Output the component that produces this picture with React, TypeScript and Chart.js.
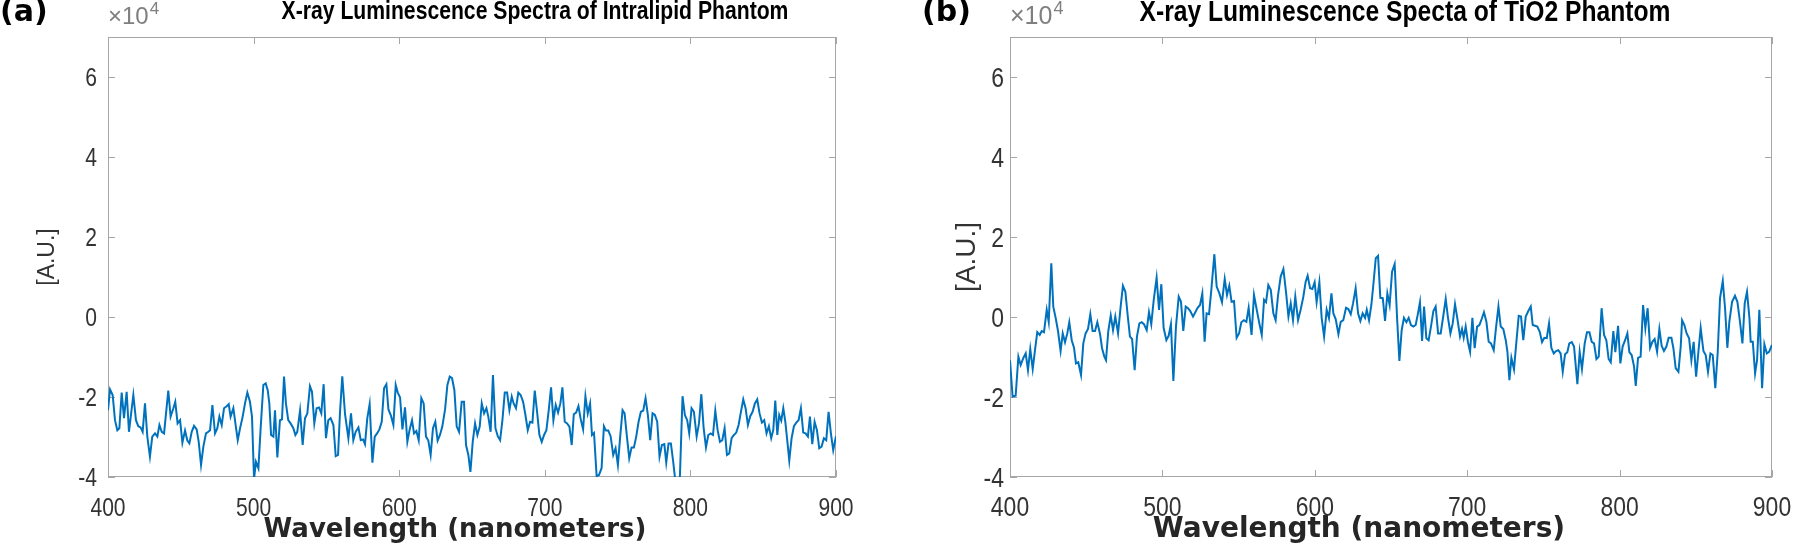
import React, { useEffect, useRef } from 'react';
import { Chart, registerables } from 'chart.js';

Chart.register(...registerables);

// ---------------- data ----------------
const X_TICKS = [400, 500, 600, 700, 800, 900];
const Y_TICKS = [-4, -2, 0, 2, 4, 6];
const X_MIN = 400;
const X_MAX = 900;
const Y_MIN = -4;
const Y_MAX = 7;

// (a) Intralipid phantom: wavelength (nm) and intensity (x10^4 A.U.)
const intralipidNm = [
  400.0, 401.4, 403.2, 404.8, 406.4, 407.8, 409.4, 411.0, 412.8, 414.4, 417.4, 419.2, 420.8, 422.4, 423.8,
  425.4, 427.0, 428.8, 430.4, 432.3, 433.9, 435.3, 436.9, 438.5, 441.4, 443.0, 444.9, 446.2, 447.8, 449.5,
  451.1, 452.9, 454.5, 455.9, 457.5, 459.1, 460.9, 462.3, 463.9, 465.5, 467.3, 468.9, 470.1, 471.7, 473.5,
  475.1, 476.5, 478.1, 479.7, 481.5, 482.9, 484.2, 486.1, 487.5, 489.1, 490.7, 492.5, 494.1, 495.7, 497.5,
  498.9, 500.3, 501.6, 503.3, 504.9, 506.7, 508.3, 509.7, 510.8, 512.0, 513.6, 514.7, 516.3, 518.1, 519.5,
  520.9, 522.2, 523.8, 525.4, 527.3, 528.7, 530.0, 531.9, 533.7, 535.3, 536.9, 538.7, 540.1, 541.7, 543.3,
  544.9, 546.5, 548.1, 549.7, 551.3, 552.9, 554.8, 556.4, 558.0, 559.3, 560.9, 562.8, 565.1, 566.9, 568.5,
  570.1, 572.0, 573.6, 575.2, 576.5, 578.1, 579.7, 581.6, 583.2, 584.8, 586.4, 588.0, 589.6, 591.2, 592.6,
  594.2, 596.0, 597.6, 599.0, 600.6, 602.2, 604.0, 605.6, 607.2, 608.8, 610.2, 611.8, 613.4, 615.2, 616.8,
  618.4, 620.0, 621.6, 623.2, 624.8, 626.4, 628.0, 629.6, 631.5, 633.1, 634.7, 636.3, 637.9, 639.5, 641.1,
  642.9, 644.5, 645.9, 647.5, 648.9, 650.5, 652.1, 653.7, 655.3, 656.7, 658.3, 659.9, 661.2, 662.8, 664.4,
  666.1, 667.7, 669.3, 670.9, 672.5, 674.1, 675.7, 677.3, 678.6, 680.2, 681.8, 683.4, 685.1, 686.7, 688.3,
  689.9, 691.5, 693.1, 694.7, 696.3, 697.9, 699.5, 701.1, 702.7, 704.3, 705.9, 707.5, 709.1, 710.7, 712.1,
  713.7, 715.3, 716.9, 718.5, 719.9, 721.5, 723.1, 724.7, 726.3, 727.9, 729.5, 731.1, 732.4, 733.8, 735.6,
  737.2, 739.0, 740.6, 742.0, 743.6, 745.2, 747.0, 748.6, 750.2, 751.8, 753.4, 754.8, 756.4, 758.0, 759.6,
  761.2, 762.8, 764.4, 766.0, 767.6, 769.2, 770.8, 772.4, 774.0, 775.6, 777.2, 778.8, 780.4, 782.1, 783.4,
  785.0, 786.6, 788.2, 789.6, 791.2, 792.8, 794.6, 796.2, 797.8, 799.2, 800.8, 802.4, 804.3, 805.9, 807.5,
  809.1, 810.7, 812.3, 813.9, 815.5, 817.1, 818.7, 820.3, 821.9, 823.5, 825.1, 826.7, 828.3, 829.9, 831.5,
  833.1, 834.7, 836.3, 837.9, 839.5, 841.1, 842.7, 844.3, 845.9, 847.5, 849.1, 850.7, 852.3, 853.9, 855.5,
  856.9, 858.3, 859.7, 861.0, 862.4, 863.8, 865.2, 866.5, 867.9, 869.5, 871.1, 872.7, 874.3, 875.9, 877.5,
  879.1, 880.7, 882.1, 883.7, 885.3, 886.9, 888.5, 890.1, 891.7, 893.3, 894.9, 896.5, 898.1, 900.0,
];
const intralipidVal = [
  -2.33, -1.81, -1.95, -2.58, -2.83, -2.78, -1.89, -2.53, -1.87, -2.87, -1.95, -2.58, -2.73, -2.76, -2.87,
  -2.16, -2.99, -3.49, -2.99, -2.91, -2.99, -2.70, -2.87, -2.91, -1.84, -2.49, -2.28, -2.12, -2.66, -2.58,
  -3.14, -2.84, -3.09, -3.16, -2.87, -2.72, -2.81, -3.12, -3.70, -3.24, -2.91, -2.87, -2.83, -2.20, -2.91,
  -2.78, -2.49, -2.70, -2.28, -2.23, -2.18, -2.49, -2.28, -2.66, -3.08, -2.78, -2.49, -2.16, -1.89, -2.12,
  -2.49, -4.05, -3.62, -3.78, -2.74, -1.70, -1.66, -1.83, -2.16, -2.95, -2.99, -2.33, -3.51, -2.58, -2.56,
  -1.49, -2.16, -2.58, -2.66, -2.78, -2.95, -2.87, -2.34, -3.20, -2.53, -2.41, -1.73, -1.87, -2.66, -2.28,
  -2.26, -2.41, -1.68, -3.03, -2.58, -2.53, -2.70, -3.48, -3.45, -2.41, -1.48, -2.43, -3.03, -2.41, -3.08,
  -2.87, -2.76, -3.08, -3.06, -3.18, -2.53, -2.18, -3.64, -2.99, -2.91, -2.81, -2.62, -1.78, -1.68, -2.31,
  -2.45, -2.70, -1.70, -1.89, -2.01, -2.81, -2.26, -3.12, -2.81, -2.58, -2.91, -2.85, -3.08, -2.03, -2.16,
  -2.99, -3.09, -3.45, -2.78, -2.62, -3.09, -2.95, -2.74, -2.31, -1.70, -1.49, -1.53, -1.83, -2.74, -2.87,
  -2.12, -2.12, -3.20, -3.45, -3.87, -3.12, -2.66, -2.95, -2.74, -2.16, -2.41, -2.28, -2.49, -2.87, -1.45,
  -2.78, -2.98, -3.08, -2.58, -1.89, -1.89, -2.33, -1.99, -2.16, -2.28, -1.89, -1.95, -2.12, -2.45, -2.83,
  -2.62, -2.64, -1.84, -2.37, -2.95, -3.12, -2.95, -2.83, -2.33, -1.76, -2.58, -2.20, -2.39, -2.16, -1.76,
  -2.62, -2.66, -2.74, -3.20, -2.43, -2.39, -2.23, -2.56, -2.81, -1.98, -2.41, -2.16, -2.95, -2.90, -3.98,
  -3.95, -3.78, -2.73, -2.84, -2.84, -2.98, -3.45, -3.28, -3.70, -2.98, -2.33, -2.41, -2.99, -3.53, -3.26,
  -3.26, -2.99, -2.62, -2.37, -2.34, -2.03, -2.45, -3.08, -2.41, -2.45, -2.62, -3.49, -3.20, -3.18, -3.64,
  -3.16, -3.16, -3.62, -4.08, -4.12, -3.99, -1.98, -2.45, -2.58, -2.91, -2.28, -2.37, -2.99, -2.66, -1.93,
  -2.78, -3.26, -2.95, -2.91, -2.95, -2.34, -2.83, -3.12, -3.08, -2.78, -3.45, -3.41, -3.03, -2.95, -2.89,
  -2.70, -2.37, -2.06, -2.28, -2.70, -2.48, -2.37, -2.16, -2.06, -2.41, -2.64, -2.58, -2.91, -2.73, -3.03,
  -2.83, -2.09, -2.95, -2.45, -2.59, -2.28, -2.62, -3.08, -3.59, -3.03, -2.73, -2.64, -2.58, -2.28, -2.89,
  -2.91, -2.99, -2.49, -3.18, -2.62, -2.83, -3.28, -3.24, -3.03, -3.08, -2.37, -2.91, -3.33, -2.98,
];

// (b) TiO2 phantom: wavelength (nm) and intensity (x10^4 A.U.)
const tio2Nm = [
  400.0, 401.7, 403.7, 405.5, 407.0, 408.7, 410.3, 411.8, 413.3, 414.9, 416.4, 417.9, 419.5, 420.8, 422.3,
  424.1, 425.4, 427.1, 428.4, 430.0, 431.5, 433.2, 434.6, 436.1, 437.6, 438.9, 440.5, 442.0, 443.3, 444.8,
  446.6, 448.1, 449.6, 451.2, 452.7, 454.2, 455.8, 457.3, 459.1, 460.4, 461.9, 463.0, 464.5, 466.1, 467.6,
  469.1, 470.9, 472.6, 474.1, 475.7, 477.2, 478.7, 480.1, 481.8, 483.3, 484.9, 486.4, 487.9, 489.7, 491.2,
  492.7, 494.3, 496.2, 497.8, 499.3, 500.8, 502.6, 504.1, 505.6, 507.2, 508.9, 510.7, 512.2, 513.7, 515.3,
  516.8, 518.3, 520.1, 521.6, 523.1, 524.7, 526.2, 527.7, 529.0, 530.6, 532.1, 534.1, 535.6, 537.4, 539.1,
  540.9, 542.4, 543.9, 545.4, 547.0, 548.7, 550.3, 551.8, 553.5, 555.1, 556.6, 558.5, 560.1, 561.9, 563.6,
  565.2, 566.7, 568.0, 569.5, 571.1, 572.8, 574.3, 575.9, 577.6, 579.4, 581.1, 582.7, 584.2, 585.7, 587.2,
  589.0, 590.7, 592.5, 594.0, 595.3, 596.9, 598.4, 599.9, 601.2, 603.0, 604.5, 606.1, 607.8, 609.3, 610.9,
  612.2, 613.7, 615.5, 617.0, 618.7, 620.5, 622.0, 623.6, 625.1, 626.8, 628.4, 629.9, 631.4, 633.0, 634.1,
  635.6, 637.1, 638.4, 640.0, 641.5, 643.0, 644.6, 646.1, 647.6, 649.1, 650.7, 652.4, 654.0, 655.5, 657.0,
  658.5, 660.1, 661.6, 663.1, 664.7, 666.2, 667.7, 669.0, 670.4, 671.7, 673.2, 674.7, 676.3, 677.8, 679.3,
  680.9, 682.6, 684.4, 685.9, 687.4, 689.0, 690.5, 692.0, 693.5, 695.3, 696.6, 697.7, 699.0, 700.5, 701.9,
  703.4, 704.9, 706.5, 708.0, 709.5, 711.0, 712.6, 714.1, 715.6, 717.4, 718.9, 720.5, 722.0, 723.7, 725.3,
  726.4, 727.7, 729.0, 730.7, 732.0, 733.8, 735.3, 736.8, 738.4, 740.1, 741.7, 743.0, 744.5, 746.0, 747.6,
  749.1, 750.6, 752.2, 753.7, 755.2, 756.8, 758.3, 759.8, 761.3, 762.7, 764.2, 765.7, 767.0, 768.6, 770.1,
  772.3, 773.8, 775.3, 777.1, 778.6, 780.2, 781.7, 783.2, 784.8, 786.3, 788.2, 789.8, 791.3, 792.8, 794.2,
  795.9, 797.2, 799.0, 800.5, 802.0, 803.6, 805.1, 806.4, 807.9, 809.5, 810.6, 812.1, 813.8, 815.4, 816.9,
  818.4, 820.0, 821.5, 823.0, 824.6, 826.1, 827.6, 829.1, 830.7, 832.2, 834.0, 835.3, 836.8, 838.6, 840.1,
  841.0, 842.5, 844.0, 845.6, 847.1, 848.6, 850.2, 851.7, 853.2, 855.0, 856.5, 858.0, 859.6, 861.1, 862.8,
  864.4, 865.9, 867.7, 869.2, 870.7, 872.0, 873.8, 875.7, 877.3, 879.0, 880.6, 882.1, 883.6, 885.2, 886.0,
  887.4, 888.9, 890.2, 891.7, 893.5, 895.0, 896.6, 898.1, 900.0,
];
const tio2Val = [
  -1.08, -1.99, -1.97, -0.99, -1.20, -1.03, -0.91, -1.33, -0.80, -1.30, -0.83, -0.38, -0.45, -0.35, -0.38,
  0.18, -0.12, 1.34, 0.26, -0.03, -0.35, -0.85, -0.41, -0.63, -0.41, -0.13, -0.58, -0.77, -1.16, -1.13,
  -1.45, -0.66, -0.41, -0.30, 0.07, -0.35, -0.35, -0.13, -0.43, -0.78, -0.99, -1.08, -0.35, 0.04, -0.33,
  0.01, -0.41, 0.26, 0.78, 0.63, 0.05, -0.49, -0.55, -1.33, -0.49, -0.16, -0.13, -0.18, -0.33, 0.12,
  -0.18, 0.42, 0.98, 0.18, 0.82, -0.27, -0.58, -0.47, -0.18, -1.60, -0.24, 0.51, 0.38, -0.35, 0.26,
  0.22, 0.15, 0.01, 0.12, 0.23, 0.30, 0.59, -0.62, 0.09, 0.07, 0.68, 1.57, 0.76, 0.59, 0.37,
  0.95, 0.55, 0.78, 0.38, 0.40, -0.52, -0.41, -0.13, -0.08, -0.12, 0.23, -0.45, 0.55, 0.18, -0.16,
  -0.45, 0.43, 0.37, 0.80, 0.68, 0.09, -0.08, 0.55, 1.01, 1.20, 0.63, 0.01, 0.34, -0.08, 0.51,
  -0.08, 0.18, 0.51, 0.88, 1.03, 0.72, 0.70, 0.87, 0.37, 0.87, -0.02, -0.49, 0.18, -0.03, 0.59,
  0.09, -0.05, -0.43, -0.12, -0.08, 0.23, 0.20, 0.07, 0.34, 0.72, 0.09, -0.10, 0.09, -0.02, 0.18,
  -0.08, 0.30, 0.80, 1.47, 1.53, 0.48, 0.47, -0.10, 0.59, 0.30, 1.13, 1.32, -0.03, -1.10, -0.33,
  -0.02, -0.13, -0.02, -0.20, -0.24, -0.20, 0.09, 0.37, -0.60, 0.26, -0.53, -0.58, -0.22, 0.15, 0.26,
  -0.41, -0.41, 0.05, 0.45, -0.02, -0.41, -0.16, 0.32, -0.03, -0.49, -0.30, -0.52, -0.24, -0.63, -0.87,
  -0.02, -0.78, -0.24, -0.20, -0.05, 0.12, -0.12, -0.62, -0.66, -0.83, -0.27, 0.26, -0.24, -0.30, -0.58,
  -0.87, -1.58, -1.02, -1.31, -0.74, 0.03, 0.01, -0.58, 0.01, 0.15, 0.26, -0.20, -0.22, -0.24, -0.37,
  -0.63, -0.52, -0.53, -0.16, -0.77, -0.91, -0.85, -0.83, -0.91, -1.37, -0.93, -0.88, -0.66, -0.63, -0.74,
  -1.68, -0.87, -1.30, -0.66, -0.38, -0.38, -0.62, -0.66, -1.05, -0.99, 0.22, -0.45, -0.58, -1.05, -1.13,
  -0.35, -0.88, -0.22, -1.16, -0.74, -0.58, -0.41, -0.88, -0.95, -1.24, -1.72, -1.02, -0.99, 0.30, -0.28,
  0.22, -0.77, -0.62, -0.55, -0.87, -0.30, -0.72, -0.85, -0.74, -0.52, -0.52, -0.78, -1.28, -1.37, -0.74,
  -0.08, -0.20, -0.41, -0.53, -1.08, -0.62, -1.49, -0.87, -0.27, -0.85, -0.95, -1.37, -0.91, -0.95, -1.78,
  -0.87, 0.47, 0.90, 0.22, -0.77, -0.12, 0.38, 0.53, 0.38, -0.12, -0.66, 0.34, 0.63, -0.03, -0.62,
  -0.62, -1.41, -1.08, 0.18, -1.78, -0.68, -0.91, -0.87, -0.70,
];

// ---------------- styling ----------------
const LINE_COLOR = '#0072BD';
const AXIS_COLOR = '#a6a6a6';
const TICK_TEXT = '#333333';
const SANS = '"Liberation Sans", Arial, Helvetica, sans-serif';
const DEJAVU = '"DejaVu Sans", sans-serif';
const CANVAS_W = 900;
const CANVAS_H = 545;
const PLOT_TOP = 37;
const PLOT_BOTTOM = 477;
const TICK_LEN = 7;

// draws text horizontally condensed by factor sx (mimics a narrow face)
function drawText(ctx: CanvasRenderingContext2D, text: string, x: number, y: number, sx: number, align: CanvasTextAlign, baseline: CanvasTextBaseline) {
  ctx.save();
  ctx.translate(x, y);
  ctx.scale(sx, 1);
  ctx.textAlign = align;
  ctx.textBaseline = baseline;
  ctx.fillText(text, 0, 0);
  ctx.restore();
}

const framePlugin = {
  id: 'matlabFrame',
  beforeDatasetsDraw(chart: any) {
    const { ctx, chartArea: a, scales } = chart;
    const xs = scales.x;
    const ys = scales.y;
    ctx.save();
    ctx.strokeStyle = AXIS_COLOR;
    ctx.lineWidth = 1;
    ctx.strokeRect(a.left + 0.5, a.top + 0.5, a.right - a.left - 1, a.bottom - a.top - 1);
    ctx.beginPath();
    X_TICKS.forEach((v) => {
      const px = Math.round(xs.getPixelForValue(v)) + 0.5;
      ctx.moveTo(px, a.bottom);
      ctx.lineTo(px, a.bottom - TICK_LEN);
      ctx.moveTo(px, a.top);
      ctx.lineTo(px, a.top + TICK_LEN);
    });
    Y_TICKS.forEach((v) => {
      const py = Math.round(ys.getPixelForValue(v)) + 0.5;
      ctx.moveTo(a.left, py);
      ctx.lineTo(a.left + TICK_LEN, py);
      ctx.moveTo(a.right, py);
      ctx.lineTo(a.right - TICK_LEN, py);
    });
    ctx.stroke();
    ctx.restore();
  },
};

const annotPlugin = {
  id: 'annot',
  afterDraw(chart: any, _args: any, o: any) {
    const { ctx, chartArea: a, scales } = chart;
    const xs = scales.x;
    const ys = scales.y;
    ctx.save();
    // tick labels, placed with the chart's own scales
    ctx.fillStyle = TICK_TEXT;
    ctx.font = `${o.tickSize}px ${SANS}`;
    X_TICKS.forEach((v) => {
      drawText(ctx, String(v), xs.getPixelForValue(v), o.xLabelBase, o.tickSx, 'center', 'alphabetic');
    });
    Y_TICKS.forEach((v) => {
      drawText(ctx, String(v), a.left - o.yTickPad, ys.getPixelForValue(v) + o.tickSize * 0.358, o.tickSx, 'right', 'alphabetic');
    });
    // panel label
    ctx.fillStyle = '#000000';
    ctx.font = o.labelFont;
    drawText(ctx, o.label, o.labelX, o.labelY, 1, 'left', 'middle');
    // title
    ctx.font = o.titleFont;
    drawText(ctx, o.title, o.titleX, o.titleY, o.titleSx, 'center', 'middle');
    // exponent
    ctx.fillStyle = '#7f7f7f';
    ctx.font = o.expFont;
    drawText(ctx, '\u00d710', a.left, o.expY, 1, 'left', 'alphabetic');
    const w = ctx.measureText('\u00d710').width;
    ctx.font = o.supFont;
    drawText(ctx, '4', a.left + w + 1, o.expY - o.supRaise, 1, 'left', 'alphabetic');
    // x-axis title
    ctx.fillStyle = '#262626';
    ctx.font = o.xTitleFont;
    drawText(ctx, 'Wavelength (nanometers)', o.xTitleX, o.xTitleY, 1, 'center', 'middle');
    ctx.restore();
  },
};

type PanelCfg = {
  nm: number[];
  val: number[];
  plotLeft: number;
  plotRight: number;
  yTitleSize: number;
  yTitlePad: number;
  annot: any;
};

function Panel({ cfg, left }: { cfg: PanelCfg; left: number }) {
  const ref = useRef<HTMLCanvasElement | null>(null);
  useEffect(() => {
    if (!ref.current) return;
    const chart = new Chart(ref.current, {
      type: 'line',
      data: {
        datasets: [
          {
            data: cfg.nm.map((x, i) => ({ x, y: cfg.val[i] })),
            borderColor: LINE_COLOR,
            borderWidth: 2,
            pointRadius: 0,
            tension: 0,
            fill: false,
          },
        ],
      },
      options: {
        responsive: false,
        animation: false,
        devicePixelRatio: 1,
        events: [],
        layout: { padding: { left: 0, top: PLOT_TOP, right: CANVAS_W - cfg.plotRight, bottom: 0 } },
        plugins: {
          legend: { display: false },
          tooltip: { enabled: false },
          title: { display: false },
          annot: cfg.annot,
        } as any,
        scales: {
          x: {
            type: 'linear',
            min: X_MIN,
            max: X_MAX,
            afterBuildTicks: (s: any) => {
              s.ticks = X_TICKS.map((v) => ({ value: v }));
            },
            afterFit: (s: any) => {
              s.height = CANVAS_H - PLOT_BOTTOM;
            },
            grid: { display: false, drawTicks: false },
            border: { display: false },
            ticks: { display: false },
          },
          y: {
            type: 'linear',
            min: Y_MIN,
            max: Y_MAX,
            afterBuildTicks: (s: any) => {
              s.ticks = Y_TICKS.map((v) => ({ value: v }));
            },
            afterFit: (s: any) => {
              s.width = cfg.plotLeft;
            },
            grid: { display: false, drawTicks: false },
            border: { display: false },
            ticks: { display: false },
            title: {
              display: true,
              text: '[A.U.]',
              color: TICK_TEXT,
              font: { family: SANS, size: cfg.yTitleSize },
              padding: { top: cfg.yTitlePad, bottom: 0 },
            },
          },
        },
      } as any,
      plugins: [framePlugin, annotPlugin],
    });
    return () => chart.destroy();
  }, [cfg]);
  return (
    <canvas
      ref={ref}
      width={CANVAS_W}
      height={CANVAS_H}
      style={{ position: 'absolute', left, top: 0, width: CANVAS_W, height: CANVAS_H, display: 'block' }}
    />
  );
}

const leftCfg: PanelCfg = {
  nm: intralipidNm,
  val: intralipidVal,
  plotLeft: 108,
  plotRight: 836,
  yTitleSize: 23,
  yTitlePad: 34,
  annot: {
    tickSize: 26,
    tickSx: 0.81,
    xLabelBase: 516,
    yTickPad: 11,
    label: '(a)',
    labelFont: `bold 30px ${DEJAVU}`,
    labelX: 0,
    labelY: 13,
    title: 'X-ray Luminescence Spectra of Intralipid Phantom',
    titleFont: `bold 26px ${SANS}`,
    titleSx: 0.814,
    titleX: 535,
    titleY: 12,
    expFont: `24px ${SANS}`,
    supFont: `17px ${SANS}`,
    expY: 24,
    supRaise: 10,
    xTitleFont: `bold 26px ${DEJAVU}`,
    xTitleX: 455,
    xTitleY: 530,
  },
};

const rightCfg: PanelCfg = {
  nm: tio2Nm,
  val: tio2Val,
  plotLeft: 110,
  plotRight: 872,
  yTitleSize: 28,
  yTitlePad: 50,
  annot: {
    tickSize: 27,
    tickSx: 0.85,
    xLabelBase: 516,
    yTickPad: 6,
    label: '(b)',
    labelFont: `bold 30px ${DEJAVU}`,
    labelX: 22,
    labelY: 13,
    title: 'X-ray Luminescence Specta of TiO2 Phantom',
    titleFont: `bold 29px ${SANS}`,
    titleSx: 0.85,
    titleX: 505,
    titleY: 13,
    expFont: `25px ${SANS}`,
    supFont: `18px ${SANS}`,
    expY: 24,
    supRaise: 10,
    xTitleFont: `bold 28px ${DEJAVU}`,
    xTitleX: 459,
    xTitleY: 530,
  },
};

export default function App() {
  return (
    <div style={{ position: 'absolute', left: 0, top: 0, width: 1800, height: 545, background: '#ffffff', overflow: 'hidden' }}>
      <Panel cfg={leftCfg} left={0} />
      <Panel cfg={rightCfg} left={900} />
    </div>
  );
}
